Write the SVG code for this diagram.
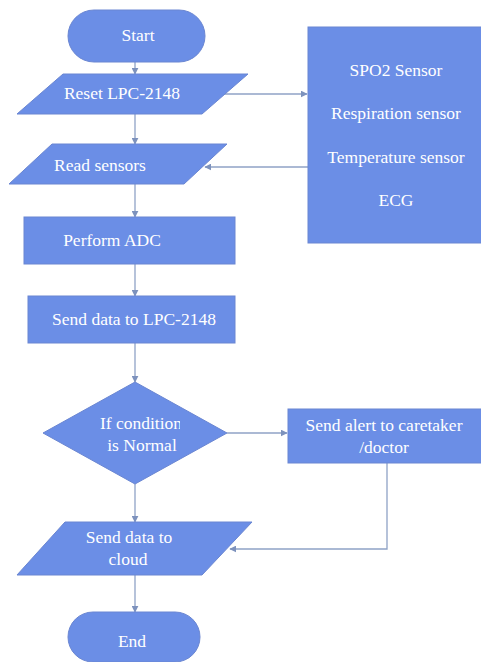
<svg xmlns="http://www.w3.org/2000/svg" width="481" height="662" viewBox="0 0 481 662">
<style>
.shape{fill:#6b8ee6;stroke:#6a86d2;stroke-width:1}
.lbl{font-family:"Liberation Serif","DejaVu Serif",serif;font-size:17.5px;fill:#ffffff;text-anchor:middle}
.conn{fill:none;stroke:#8fa2c6;stroke-width:1.3}
</style>
<defs>
<marker id="ah" viewBox="0 0 10 10" refX="9" refY="5" markerWidth="7" markerHeight="7" orient="auto" markerUnits="userSpaceOnUse">
<path d="M0,0 L10,5 L0,10 z" fill="#7d92bd"/>
</marker>
<clipPath id="dclip"><rect x="60" y="400" width="120" height="60"/></clipPath>
</defs>
<rect width="481" height="662" fill="#ffffff"/>
<g id="connectors">
<line class="conn" x1="135" y1="62" x2="135" y2="74" marker-end="url(#ah)"/>
<line class="conn" x1="135" y1="114" x2="135" y2="144" marker-end="url(#ah)"/>
<line class="conn" x1="135" y1="184" x2="135" y2="217" marker-end="url(#ah)"/>
<line class="conn" x1="135" y1="264" x2="135" y2="296" marker-end="url(#ah)"/>
<line class="conn" x1="135" y1="343" x2="135" y2="382" marker-end="url(#ah)"/>
<line class="conn" x1="135" y1="484" x2="135" y2="522" marker-end="url(#ah)"/>
<line class="conn" x1="135" y1="575" x2="135" y2="612" marker-end="url(#ah)"/>
<line class="conn" x1="224" y1="94" x2="307" y2="94" marker-end="url(#ah)"/>
<line class="conn" x1="308" y1="167" x2="205" y2="167" marker-end="url(#ah)"/>
<line class="conn" x1="227" y1="433" x2="287" y2="433" marker-end="url(#ah)"/>
<polyline class="conn" points="387,463 387,549 230,549" marker-end="url(#ah)"/>
</g>
<g id="start">
<rect class="shape" x="68" y="10" width="137" height="52" rx="26" ry="26"/>
<text class="lbl" x="138" y="41">Start</text>
</g>
<g id="reset">
<polygon class="shape" points="63,74 248,74 202,114 17,114"/>
<text class="lbl" x="122" y="99">Reset LPC-2148</text>
</g>
<g id="sensors">
<rect class="shape" x="308" y="27" width="176" height="216"/>
<text class="lbl" x="396" y="76">SPO2 Sensor</text>
<text class="lbl" x="396" y="119">Respiration sensor</text>
<text class="lbl" x="396" y="163">Temperature sensor</text>
<text class="lbl" x="396" y="206">ECG</text>
</g>
<g id="read">
<polygon class="shape" points="52,144 227,144 184,184 9,184"/>
<text class="lbl" x="100" y="171">Read sensors</text>
</g>
<g id="adc">
<rect class="shape" x="24" y="217" width="211" height="47"/>
<text class="lbl" x="112" y="246">Perform ADC</text>
</g>
<g id="senddata">
<rect class="shape" x="28" y="296" width="207" height="47"/>
<text class="lbl" x="134" y="325">Send data to LPC-2148</text>
</g>
<g id="decision">
<polygon class="shape" points="135,382 227,433 135,484 43,433"/>
<text class="lbl" x="141" y="429" clip-path="url(#dclip)">If condition</text>
<text class="lbl" x="142" y="451">is Normal</text>
</g>
<g id="alert">
<rect class="shape" x="288" y="409" width="194" height="54"/>
<text class="lbl" x="384" y="431">Send alert to caretaker</text>
<text class="lbl" x="384" y="453">/doctor</text>
</g>
<g id="cloud">
<polygon class="shape" points="65,522 252,522 202,575 17,575"/>
<text class="lbl" x="129" y="543">Send data to</text>
<text class="lbl" x="128" y="565">cloud</text>
</g>
<g id="end">
<rect class="shape" x="68" y="612" width="132" height="50" rx="25" ry="25"/>
<text class="lbl" x="132" y="647">End</text>
</g>
</svg>
